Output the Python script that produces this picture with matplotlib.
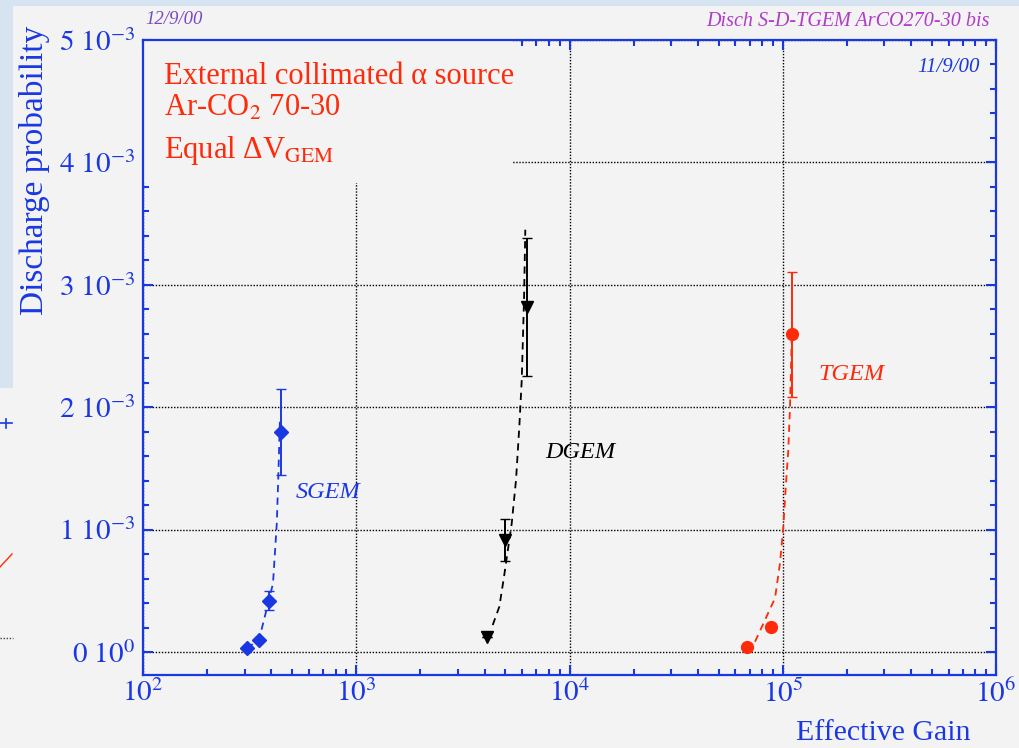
import matplotlib.pyplot as plt
import matplotlib.ticker as mticker
from matplotlib.patches import Rectangle
from matplotlib.lines import Line2D
import numpy as np

plt.rcParams['font.family'] = ['Liberation Serif', 'DejaVu Serif']
plt.rcParams['mathtext.fontset'] = 'stix'

# measured points: effective gain, discharge probability (units of 1e-3), error
sgem_gain = [307, 350, 389, 444]
sgem_prob = [0.03, 0.10, 0.42, 1.80]
sgem_err = [0.0, 0.0, 0.08, 0.35]

dgem_gain = [4090, 4983, 6298]
dgem_prob = [0.125, 0.915, 2.82]
dgem_err = [0.0, 0.175, 0.565]

tgem_gain = [67760, 87800, 110900]
tgem_prob = [0.043, 0.207, 2.596]
tgem_err = [0.0, 0.0, 0.51]

# fitted trend curves (dashed)
sgem_fit_gain = [307, 350, 389, 407, 424, 431, 439]
sgem_fit_prob = [0.03, 0.10, 0.42, 0.56, 1.05, 1.43, 1.92]
dgem_fit_gain = [4364, 4687, 4931, 5358, 5613, 5816, 5970, 6119, 6205]
dgem_fit_prob = [0.22, 0.37, 0.615, 1.05, 1.405, 1.84, 2.22, 2.875, 3.45]
tgem_fit_gain = [74130, 91990, 97080, 100600, 103560, 106170, 108140, 109330, 110160]
tgem_fit_prob = [0.084, 0.44, 0.725, 1.024, 1.378, 1.65, 2.004, 2.33, 2.576]

y_major = [0, 1, 2, 3, 4, 5]

BLUE = '#1a38e2'
RED = '#ff2a0a'
BG = '#f3f3f3'
W, H = 1019, 748


def px(x, y):
    # pixel position -> figure fraction
    return x / W, 1 - y / H


def fig_line(xs, ys, **kw):
    fig.lines.append(Line2D([x / W for x in xs], [1 - y / H for y in ys],
                            transform=fig.transFigure, **kw))


fig = plt.figure(figsize=(W / 100, H / 100), dpi=100, facecolor=BG)
# light blue desktop strips around the window
fig.patches.append(Rectangle((0, 1 - 6 / H), 1, 6 / H, transform=fig.transFigure,
                             facecolor='#d6e4f2', edgecolor='none', zorder=0))
fig.patches.append(Rectangle((0, 1 - 388 / H), 13 / W, 388 / H, transform=fig.transFigure,
                             facecolor='#d6e4f2', edgecolor='none', zorder=0))
# edge of the window underneath
fig_line([0, 12], [423, 423], color=BLUE, lw=1.2)
fig_line([6, 6], [419, 428], color=BLUE, lw=1.2)
fig_line([0, 12], [567, 554], color=RED, lw=1.0)
fig_line([0, 13], [638, 638], color='#444444', lw=1.0, ls=(0, (1, 1.2)))

ax = fig.add_axes([143 / W, 1 - 675 / H, (996 - 143) / W, (675 - 40) / H])
ax.set_facecolor(BG)
ax.set_xscale('log')
ax.set_xlim(1e2, 1e6)
ax.set_ylim(-0.188e-3, 5e-3)

ax.set_yticks([v * 1e-3 for v in y_major])
ax.set_yticklabels(['$0\\ 10^{0}$'] + ['$%d\\ 10^{-3}$' % v for v in y_major[1:]])
ax.yaxis.set_minor_locator(mticker.MultipleLocator(0.2e-3))
ax.xaxis.set_minor_locator(mticker.LogLocator(base=10, subs=np.arange(2, 10), numticks=20))
ax.xaxis.set_minor_formatter(mticker.NullFormatter())
ax.set_xticks([1e2, 1e3, 1e4, 1e5, 1e6])
ax.set_xticklabels(['$10^{%d}$' % k for k in range(2, 7)])

ax.tick_params(which='both', direction='in', top=True, right=True, color=BLUE, width=1.5)
ax.tick_params(which='major', length=7)
ax.tick_params(which='minor', length=4.5)
ax.tick_params(axis='y', which='major', labelsize=21, labelcolor=BLUE, pad=6)
ax.tick_params(axis='x', which='major', labelsize=21, labelcolor=BLUE, pad=3)
for s in ax.spines.values():
    s.set_color(BLUE)
    s.set_linewidth(1.6)

ax.set_axisbelow(True)
ax.grid(True, which='major', color='black', linestyle=(0, (1, 1.2)), linewidth=1.0)

# blank area behind the annotation block
ax.add_patch(Rectangle((0, 0.775), 0.434, 0.225, transform=ax.transAxes,
                       facecolor=BG, edgecolor='none', zorder=1))

dash = (0, (4, 3))
ax.plot(sgem_fit_gain, np.array(sgem_fit_prob) * 1e-3, color=BLUE, ls=dash, lw=1.3, zorder=2)
ax.plot(dgem_fit_gain, np.array(dgem_fit_prob) * 1e-3, color='black', ls=dash, lw=1.3, zorder=2)
ax.plot(tgem_fit_gain, np.array(tgem_fit_prob) * 1e-3, color=RED, ls=dash, lw=1.3, zorder=2)

ax.errorbar(sgem_gain, np.array(sgem_prob) * 1e-3, yerr=np.array(sgem_err) * 1e-3,
            fmt='D', ms=7, color=BLUE, ecolor=BLUE, elinewidth=1.4, capsize=3.5, zorder=3)
ax.errorbar(dgem_gain, np.array(dgem_prob) * 1e-3, yerr=np.array(dgem_err) * 1e-3,
            fmt='v', ms=8, color='black', ecolor='black', elinewidth=1.4, capsize=3.5, zorder=3)
ax.errorbar(tgem_gain, np.array(tgem_prob) * 1e-3, yerr=np.array(tgem_err) * 1e-3,
            fmt='o', ms=8.5, color=RED, ecolor=RED, elinewidth=1.4, capsize=3.5, zorder=3)

# axis titles
fig.text(*px(35, 170), 'Discharge probability', fontsize=24, color=BLUE,
         rotation=90, ha='center', va='center')
fig.text(*px(883, 733), 'Effective Gain', fontsize=21.5, color=BLUE, ha='center', va='center')

# series labels
fig.text(*px(296, 492), 'SGEM', fontsize=17.5, style='italic', color=BLUE, va='center')
fig.text(*px(545, 453), 'DGEM', fontsize=17.5, style='italic', color='black', va='center')
fig.text(*px(818, 375), 'TGEM', fontsize=17.5, style='italic', color=RED, va='center')

# conditions
fig.text(*px(164, 84), 'External collimated α source', fontsize=22, color=RED, va='baseline')
fig.text(*px(164, 116), r'Ar-CO$_{2}$ 70-30', fontsize=22, color=RED, va='baseline')
fig.text(*px(164, 158), r'Equal ΔV$_{\mathrm{GEM}}$', fontsize=22, color=RED, va='baseline')

# dates / run tag
fig.text(*px(145, 20), '12/9/00', fontsize=13.5, style='italic', color='#7a48c0', va='center')
fig.text(*px(990, 22), 'Disch S-D-TGEM ArCO270-30 bis', fontsize=14.5, style='italic',
         color='#b03cc8', ha='right', va='center')
fig.text(*px(980, 67), '11/9/00', fontsize=15, style='italic', color=BLUE, ha='right', va='center')

fig.savefig('out.png', dpi=100, facecolor=BG)
